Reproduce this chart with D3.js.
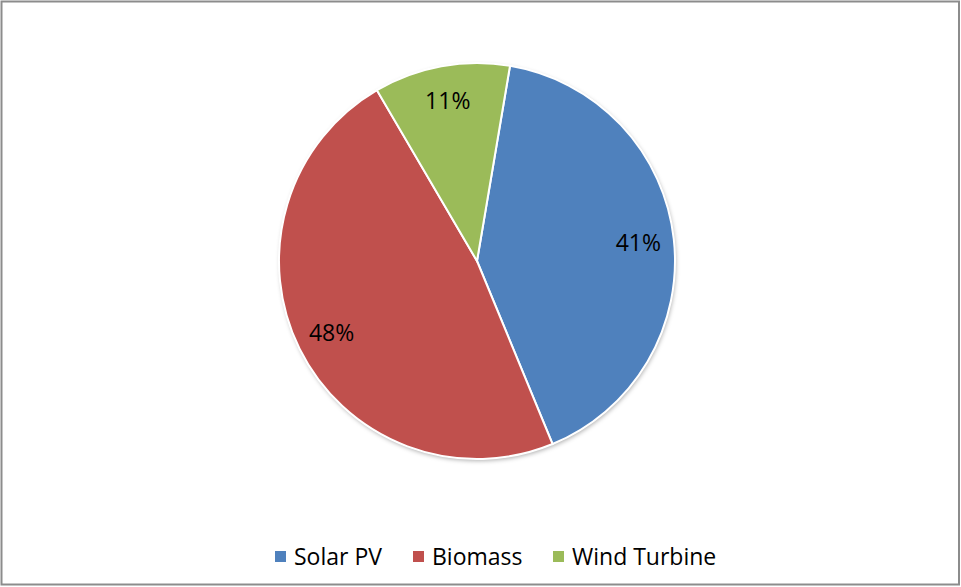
<!DOCTYPE html>
<html>
<head>
<meta charset="utf-8">
<script src="https://cdn.jsdelivr.net/npm/d3@7"></script>
<style>
  body { margin: 0; background: #fff; }
  text { font-family: "Open Sans", "Liberation Sans", sans-serif; }
</style>
</head>
<body>
<div id="chart"></div>
<script>
// data
var categories = ["Solar PV", "Biomass", "Wind Turbine"];
var shares = [41.1, 47.8, 11.1];
var labels = ["41%", "48%", "11%"];
var colors = ["#4f81bd", "#c0504d", "#9bbb59"];

var svgWidth = 961, svgHeight = 587;
var cx = 477, cy = 261, radius = 198;
var startAngle = 9.6 * Math.PI / 180;

var svg = d3.select("#chart").append("svg")
  .attr("width", svgWidth)
  .attr("height", svgHeight);

// frame
svg.append("rect")
  .attr("x", 1.5).attr("y", 1.5)
  .attr("width", 957.5).attr("height", 583)
  .attr("fill", "#fff")
  .attr("stroke", "#8c8c8c")
  .attr("stroke-width", 2);

var defs = svg.append("defs");
var f = defs.append("filter").attr("id", "shadow")
  .attr("x", "-10%").attr("y", "-10%").attr("width", "120%").attr("height", "120%");
f.append("feDropShadow").attr("dx", 1).attr("dy", 2).attr("stdDeviation", 2)
  .attr("flood-color", "#000").attr("flood-opacity", 0.3);

var data = categories.map(function(c, i) {
  return { name: c, value: shares[i], label: labels[i], color: colors[i] };
});

var pie = d3.pie()
  .value(function(d) { return d.value; })
  .sort(null)
  .startAngle(startAngle)
  .endAngle(startAngle + 2 * Math.PI);

var arc = d3.arc().innerRadius(0).outerRadius(radius);
var labelArc = d3.arc().innerRadius(radius * 0.82).outerRadius(radius * 0.82);

var g = svg.append("g").attr("transform", "translate(" + cx + "," + cy + ")");

g.append("circle").attr("r", radius).attr("fill", "#fff").attr("filter", "url(#shadow)");

g.selectAll("path.slice")
  .data(pie(data))
  .enter()
  .append("path")
  .attr("class", "slice")
  .attr("d", arc)
  .attr("fill", function(d) { return d.data.color; })
  .attr("stroke", "#fff")
  .attr("stroke-width", 2);

g.selectAll("text.pct")
  .data(pie(data))
  .enter()
  .append("text")
  .attr("class", "pct")
  .attr("transform", function(d) { return "translate(" + labelArc.centroid(d) + ")"; })
  .attr("text-anchor", "middle")
  .attr("dy", "0.35em")
  .attr("font-size", "23px")
  .attr("fill", "#000")
  .text(function(d) { return d.data.label; });

// legend
var legendX = [275, 413, 553];
var legend = svg.selectAll("g.legend")
  .data(data)
  .enter()
  .append("g")
  .attr("class", "legend")
  .attr("transform", function(d, i) { return "translate(" + legendX[i] + ",551)"; });

legend.append("rect")
  .attr("width", 11).attr("height", 11)
  .attr("fill", function(d) { return d.color; });

legend.append("text")
  .attr("x", 19).attr("y", 6)
  .attr("dy", "0.35em")
  .attr("font-size", "23px")
  .attr("fill", "#000")
  .text(function(d) { return d.name; });
</script>
</body>
</html>
